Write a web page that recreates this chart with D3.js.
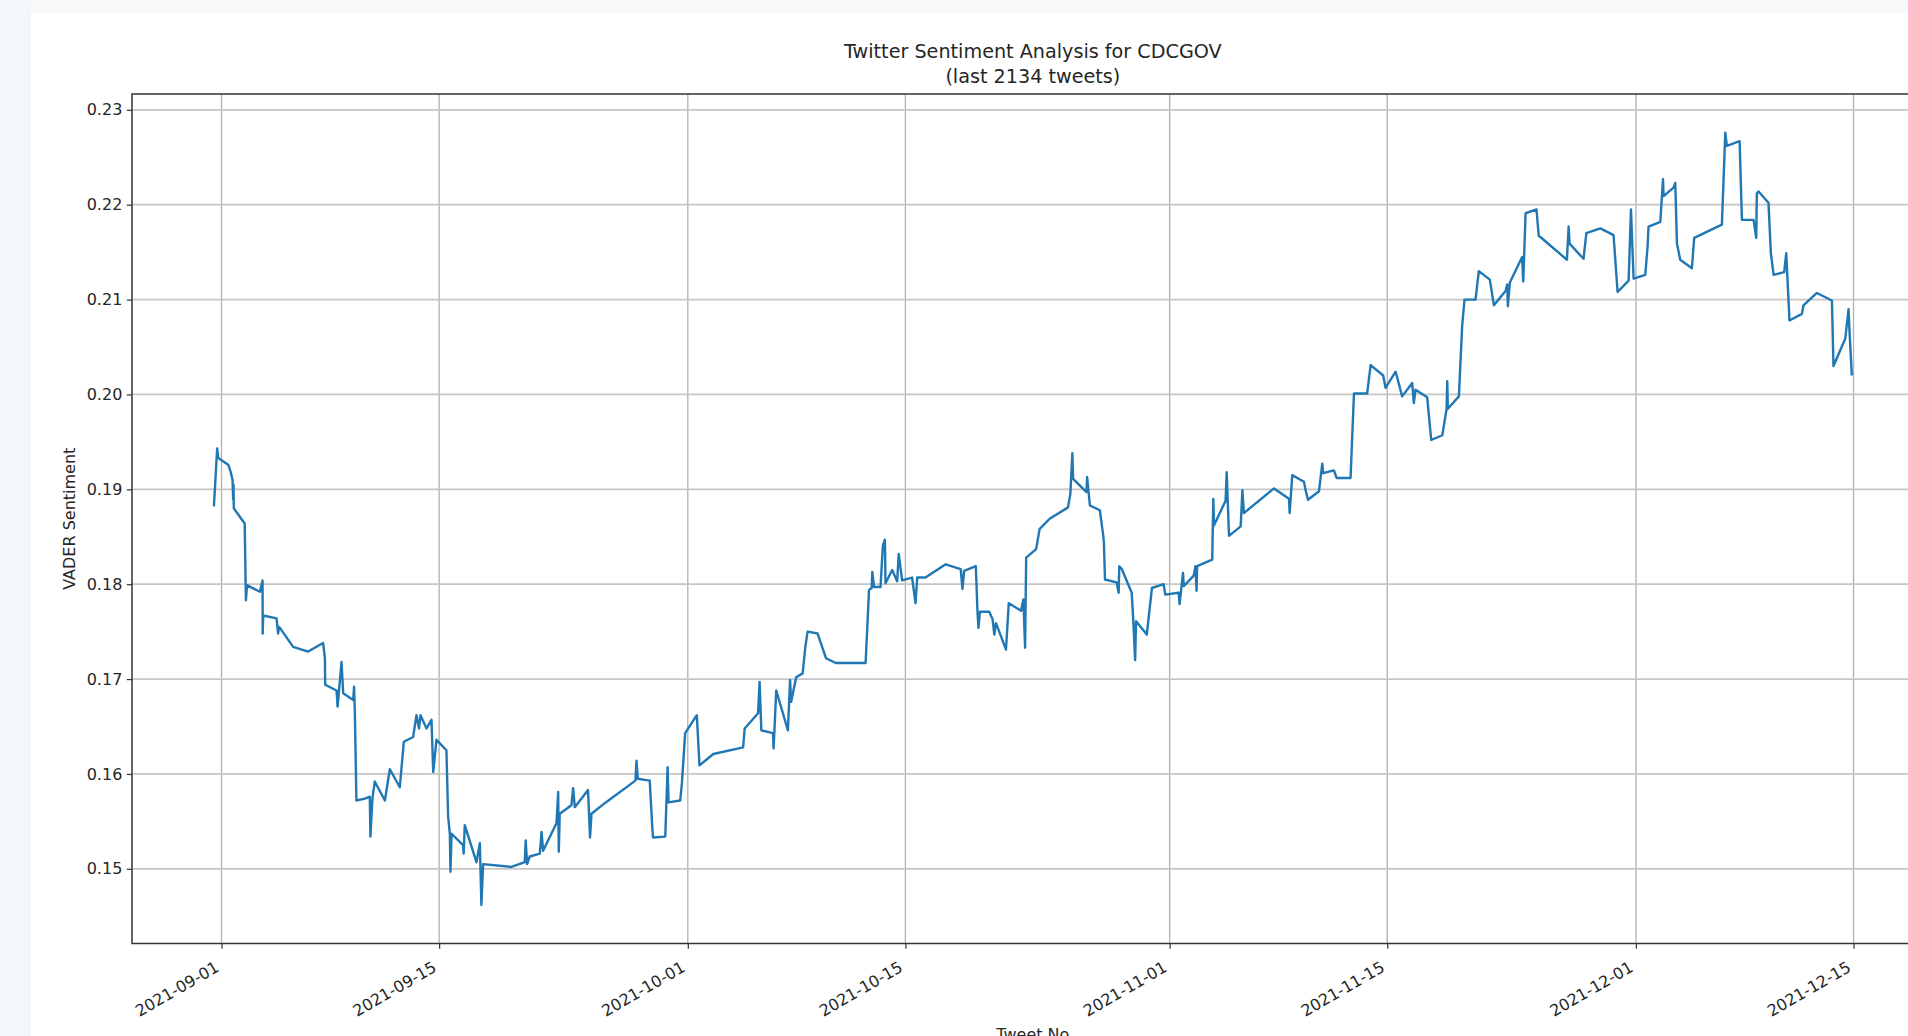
<!DOCTYPE html>
<html lang="en">

<head>
    <meta charset="UTF-8">
    <script src="https://d3js.org/d3.v7.min.js"></script>
    <title>Twitter Sentiment Analysis for CDCGOV</title>
    <style>
        body { margin: 0; background: #ffffff; }
        svg { display: block; }
        text { font-family: "DejaVu Sans", sans-serif; fill: #262626; }
    </style>
</head>

<body>
    <div id="chart"></div>
    <script>
        // Data (tweet time, rolling VADER sentiment)
        const tweetTimes = [
            "2021-08-31 12:14", "2021-08-31 17:17", "2021-08-31 18:58", "2021-09-01 10:19", "2021-09-01 13:55",
            "2021-09-01 17:02", "2021-09-01 18:00", "2021-09-01 18:29", "2021-09-01 18:58", "2021-09-02 11:46",
            "2021-09-02 13:41", "2021-09-02 15:22", "2021-09-03 11:17", "2021-09-03 15:22", "2021-09-03 15:36",
            "2021-09-03 16:19", "2021-09-04 12:58", "2021-09-04 15:22", "2021-09-04 17:02", "2021-09-05 14:38",
            "2021-09-06 13:41", "2021-09-07 12:58", "2021-09-07 15:36", "2021-09-07 16:05", "2021-09-08 09:36",
            "2021-09-08 11:17", "2021-09-08 17:17", "2021-09-08 19:55", "2021-09-09 11:17", "2021-09-09 12:43",
            "2021-09-09 13:55", "2021-09-09 16:19", "2021-09-10 05:17", "2021-09-10 12:58", "2021-09-10 13:55",
            "2021-09-10 17:02", "2021-09-10 20:38", "2021-09-11 12:14", "2021-09-11 19:55", "2021-09-12 11:17",
            "2021-09-12 17:31", "2021-09-13 07:55", "2021-09-13 12:58", "2021-09-13 17:02", "2021-09-13 19:12",
            "2021-09-14 04:34", "2021-09-14 12:14", "2021-09-14 14:53", "2021-09-14 19:55", "2021-09-15 11:17",
            "2021-09-15 13:55", "2021-09-15 16:34", "2021-09-15 17:31", "2021-09-15 19:12", "2021-09-16 12:58",
            "2021-09-16 13:55", "2021-09-16 15:36", "2021-09-17 09:36", "2021-09-17 14:53", "2021-09-17 17:17",
            "2021-09-17 19:55", "2021-09-19 15:36", "2021-09-20 12:14", "2021-09-20 13:41", "2021-09-20 15:50",
            "2021-09-20 19:55", "2021-09-21 11:31", "2021-09-21 14:10", "2021-09-21 16:34", "2021-09-22 13:12",
            "2021-09-22 15:50", "2021-09-22 16:48", "2021-09-22 18:14", "2021-09-23 12:14", "2021-09-23 14:53",
            "2021-09-23 17:31", "2021-09-24 13:55", "2021-09-24 17:02", "2021-09-24 19:12", "2021-09-25 17:17",
            "2021-09-27 15:07", "2021-09-27 16:48", "2021-09-27 18:43", "2021-09-28 13:12", "2021-09-28 16:48",
            "2021-09-28 18:14", "2021-09-29 13:12", "2021-09-29 16:48", "2021-09-29 18:14", "2021-09-30 12:14",
            "2021-09-30 14:53", "2021-09-30 19:55", "2021-10-01 13:55", "2021-10-01 18:00", "2021-10-02 15:22",
            "2021-10-04 13:26", "2021-10-04 15:50", "2021-10-05 12:29", "2021-10-05 14:53", "2021-10-05 17:31",
            "2021-10-06 11:31", "2021-10-06 12:29", "2021-10-06 16:34", "2021-10-07 10:34", "2021-10-07 13:55",
            "2021-10-07 15:36", "2021-10-07 23:17", "2021-10-08 09:22", "2021-10-08 13:26", "2021-10-08 17:02",
            "2021-10-09 08:24", "2021-10-09 21:22", "2021-10-10 12:29", "2021-10-12 10:34", "2021-10-12 15:50",
            "2021-10-12 19:55", "2021-10-12 20:53", "2021-10-12 23:31", "2021-10-13 09:36", "2021-10-13 13:12",
            "2021-10-13 16:19", "2021-10-13 17:17", "2021-10-14 03:36", "2021-10-14 11:17", "2021-10-14 13:41",
            "2021-10-14 18:58", "2021-10-15 10:19", "2021-10-15 15:36", "2021-10-15 18:14", "2021-10-16 06:58",
            "2021-10-17 14:10", "2021-10-18 13:26", "2021-10-18 16:05", "2021-10-18 18:43", "2021-10-19 12:43",
            "2021-10-19 15:22", "2021-10-19 16:48", "2021-10-19 18:58", "2021-10-20 09:22", "2021-10-20 14:38",
            "2021-10-20 17:17", "2021-10-20 19:55", "2021-10-21 11:17", "2021-10-21 15:36", "2021-10-22 10:34",
            "2021-10-22 14:10", "2021-10-22 16:48", "2021-10-22 18:29", "2021-10-23 09:50", "2021-10-23 15:07",
            "2021-10-24 06:43", "2021-10-25 11:02", "2021-10-25 14:38", "2021-10-25 17:46", "2021-10-25 18:58",
            "2021-10-26 15:36", "2021-10-26 16:34", "2021-10-26 20:53", "2021-10-27 12:14", "2021-10-27 17:31",
            "2021-10-27 18:29", "2021-10-27 20:10", "2021-10-28 14:10", "2021-10-28 17:17", "2021-10-28 18:14",
            "2021-10-28 22:05", "2021-10-29 13:26", "2021-10-29 16:05", "2021-10-29 18:43", "2021-10-29 20:10",
            "2021-10-30 12:43", "2021-10-30 20:38", "2021-10-31 14:38", "2021-10-31 17:17", "2021-11-01 13:55",
            "2021-11-01 15:22", "2021-11-01 20:38", "2021-11-01 21:50", "2021-11-02 13:12", "2021-11-02 15:50",
            "2021-11-02 17:31", "2021-11-02 18:29", "2021-11-03 17:46", "2021-11-03 19:26", "2021-11-03 20:24",
            "2021-11-04 14:24", "2021-11-04 16:05", "2021-11-04 19:41", "2021-11-05 13:41", "2021-11-05 16:19",
            "2021-11-05 18:43", "2021-11-07 17:02", "2021-11-08 16:19", "2021-11-08 17:17", "2021-11-08 21:22",
            "2021-11-09 15:22", "2021-11-09 18:00", "2021-11-09 21:36", "2021-11-10 14:38", "2021-11-10 19:41",
            "2021-11-10 21:07", "2021-11-11 13:41", "2021-11-11 17:46", "2021-11-12 15:22", "2021-11-12 20:38",
            "2021-11-13 17:02", "2021-11-13 22:19", "2021-11-14 17:46", "2021-11-14 21:22", "2021-11-15 12:58",
            "2021-11-15 23:02", "2021-11-16 14:38", "2021-11-16 17:02", "2021-11-16 19:41", "2021-11-17 13:41",
            "2021-11-17 19:55", "2021-11-18 12:58", "2021-11-18 19:41", "2021-11-18 20:38", "2021-11-18 21:36",
            "2021-11-19 14:38", "2021-11-19 19:41", "2021-11-19 23:17", "2021-11-20 16:19", "2021-11-20 21:22",
            "2021-11-21 14:24", "2021-11-21 20:38", "2021-11-22 14:38", "2021-11-22 17:17", "2021-11-22 18:14",
            "2021-11-22 21:22", "2021-11-23 16:19", "2021-11-23 18:00", "2021-11-23 21:36", "2021-11-24 14:24",
            "2021-11-24 18:00", "2021-11-24 20:24", "2021-11-26 13:26", "2021-11-26 16:05", "2021-11-26 17:31",
            "2021-11-27 15:07", "2021-11-27 19:26", "2021-11-28 17:02", "2021-11-29 13:26", "2021-11-29 19:41",
            "2021-11-30 12:43", "2021-11-30 16:19", "2021-11-30 20:24", "2021-12-01 14:24", "2021-12-01 18:00",
            "2021-12-01 19:26", "2021-12-02 13:41", "2021-12-02 17:46", "2021-12-02 18:43", "2021-12-03 10:05",
            "2021-12-03 12:43", "2021-12-03 15:22", "2021-12-03 20:24", "2021-12-04 14:24", "2021-12-04 18:00",
            "2021-12-06 12:43", "2021-12-06 18:00", "2021-12-06 20:24", "2021-12-07 16:05", "2021-12-07 19:41",
            "2021-12-08 13:41", "2021-12-08 17:46", "2021-12-08 18:43", "2021-12-08 21:22", "2021-12-09 12:43",
            "2021-12-09 16:19", "2021-12-09 20:38", "2021-12-10 12:58", "2021-12-10 16:05", "2021-12-10 21:07",
            "2021-12-11 16:19", "2021-12-11 18:43", "2021-12-12 15:22", "2021-12-13 14:38", "2021-12-13 17:02",
            "2021-12-14 11:17", "2021-12-14 16:19", "2021-12-14 17:46", "2021-12-14 21:22"
        ];

        const sentiment = [
            0.1882, 0.1943, 0.1933, 0.1926, 0.1919, 0.1910, 0.1889, 0.1905, 0.1880, 0.1864,
            0.1783, 0.1799, 0.1792, 0.1804, 0.1748, 0.1767, 0.1764, 0.1748, 0.1755, 0.1734,
            0.1729, 0.1738, 0.1722, 0.1694, 0.1688, 0.1671, 0.1718, 0.1685, 0.1678, 0.1692,
            0.1664, 0.1572, 0.1574, 0.1576, 0.1534, 0.1574, 0.1592, 0.1572, 0.1605, 0.1586,
            0.1634, 0.1639, 0.1662, 0.1648, 0.1662, 0.1648, 0.1657, 0.1602, 0.1636, 0.1625,
            0.1555, 0.1537, 0.1497, 0.1537, 0.1525, 0.1516, 0.1546, 0.1507, 0.1527, 0.1462,
            0.1505, 0.1502, 0.1507, 0.1530, 0.1505, 0.1513, 0.1516, 0.1539, 0.1519, 0.1548,
            0.1581, 0.1518, 0.1558, 0.1567, 0.1585, 0.1565, 0.1583, 0.1533, 0.1558, 0.1570,
            0.1593, 0.1614, 0.1595, 0.1593, 0.1548, 0.1533, 0.1534, 0.1607, 0.1570, 0.1572,
            0.1590, 0.1643, 0.1662, 0.1609, 0.1621, 0.1628, 0.1648, 0.1664, 0.1697, 0.1646,
            0.1643, 0.1627, 0.1688, 0.1646, 0.1699, 0.1676, 0.1702, 0.1706, 0.1734, 0.1750,
            0.1748, 0.1722, 0.1717, 0.1717, 0.1794, 0.1796, 0.1813, 0.1797, 0.1797, 0.1841,
            0.1847, 0.1801, 0.1815, 0.1803, 0.1832, 0.1804, 0.1807, 0.1780, 0.1807, 0.1807,
            0.1821, 0.1816, 0.1795, 0.1814, 0.1819, 0.1770, 0.1754, 0.1771, 0.1771, 0.1763,
            0.1747, 0.1759, 0.1731, 0.1780, 0.1772, 0.1784, 0.1733, 0.1828, 0.1837, 0.1858,
            0.1869, 0.1881, 0.1895, 0.1938, 0.1911, 0.1897, 0.1913, 0.1883, 0.1878, 0.1851,
            0.1844, 0.1805, 0.1802, 0.1791, 0.1819, 0.1816, 0.1791, 0.1759, 0.1720, 0.1761,
            0.1747, 0.1796, 0.1800, 0.1789, 0.1791, 0.1779, 0.1812, 0.1798, 0.1809, 0.1819,
            0.1793, 0.1819, 0.1826, 0.1890, 0.1862, 0.1888, 0.1918, 0.1851, 0.1861, 0.1899,
            0.1875, 0.1901, 0.1890, 0.1875, 0.1915, 0.1908, 0.1899, 0.1889, 0.1898, 0.1927,
            0.1917, 0.1920, 0.1912, 0.1912, 0.2001, 0.2001, 0.2031, 0.2020, 0.2007, 0.2024,
            0.1998, 0.2012, 0.1991, 0.2005, 0.1997, 0.1952, 0.1957, 0.1985, 0.2014, 0.1985,
            0.1998, 0.2072, 0.2100, 0.2100, 0.2130, 0.2121, 0.2094, 0.2109, 0.2116, 0.2093,
            0.2118, 0.2145, 0.2119, 0.2191, 0.2195, 0.2167, 0.2166, 0.2142, 0.2177, 0.2159,
            0.2143, 0.2170, 0.2175, 0.2168, 0.2108, 0.2120, 0.2195, 0.2122, 0.2126, 0.2156,
            0.2177, 0.2182, 0.2227, 0.2209, 0.2218, 0.2223, 0.2159, 0.2142, 0.2133, 0.2165,
            0.2179, 0.2276, 0.2262, 0.2267, 0.2184, 0.2184, 0.2165, 0.2212, 0.2214, 0.2202,
            0.2149, 0.2126, 0.2129, 0.2149, 0.2078, 0.2085, 0.2094, 0.2107, 0.2099, 0.2030,
            0.2059, 0.2090, 0.2067, 0.2020
        ];

        const xTickDates = ["2021-09-01", "2021-09-15", "2021-10-01", "2021-10-15",
            "2021-11-01", "2021-11-15", "2021-12-01", "2021-12-15"];
        const yTickValues = [0.15, 0.16, 0.17, 0.18, 0.19, 0.20, 0.21, 0.22, 0.23];

        const titleLines = ["Twitter Sentiment Analysis for CDCGOV", "(last 2134 tweets)"];

        // Dimensions
        const width = 1908;
        const height = 1036;
        const plotLeft = 132, plotTop = 94, plotBottom = 943.5;
        const pxPerDay = 15.543;

        const parseTime = d3.timeParse("%Y-%m-%d %H:%M");
        const parseDay = d3.timeParse("%Y-%m-%d");
        const data = tweetTimes.map((t, i) => ({ date: parseTime(t), value: sentiment[i] }));

        // matplotlib style 5% margins
        const [t0, t1] = d3.extent(data, d => d.date);
        const tPad = (t1 - t0) * 0.05;
        const xDomain = [new Date(+t0 - tPad), new Date(+t1 + tPad)];
        const plotRight = plotLeft + (xDomain[1] - xDomain[0]) / 864e5 * pxPerDay;

        const [v0, v1] = d3.extent(data, d => d.value);
        const vPad = (v1 - v0) * 0.05;

        const x = d3.scaleTime().domain(xDomain).range([plotLeft, plotRight]);
        const y = d3.scaleLinear().domain([v0 - vPad, v1 + vPad]).range([plotBottom, plotTop]);

        const svg = d3.select("#chart")
            .append("svg")
            .attr("width", width)
            .attr("height", height);

        // Background (screenshot border)
        svg.append("rect").attr("width", width).attr("height", height).attr("fill", "#ffffff");
        svg.append("rect").attr("width", width).attr("height", 13).attr("fill", "#f6f8fa");
        svg.append("rect").attr("width", 31).attr("height", height).attr("fill", "#f2f7fc");

        const plotW = plotRight - plotLeft;

        // Grid
        svg.append("g")
            .selectAll("line")
            .data(xTickDates.map(parseDay))
            .join("line")
            .attr("x1", d => x(d)).attr("x2", d => x(d))
            .attr("y1", plotTop).attr("y2", plotBottom)
            .attr("stroke", "#b0b0b0")
            .attr("stroke-width", 1.3);

        svg.append("g")
            .selectAll("line")
            .data(yTickValues)
            .join("line")
            .attr("x1", plotLeft).attr("x2", plotRight)
            .attr("y1", d => y(d)).attr("y2", d => y(d))
            .attr("stroke", "#c6c6c6")
            .attr("stroke-width", 1.7);

        // Sentiment line
        const line = d3.line()
            .x(d => x(d.date))
            .y(d => y(d.value));

        svg.append("path")
            .datum(data)
            .attr("fill", "none")
            .attr("stroke", "#1f77b4")
            .attr("stroke-width", 2.4)
            .attr("stroke-linejoin", "round")
            .attr("d", line);

        // Axes
        const yAxis = d3.axisLeft(y)
            .tickValues(yTickValues)
            .tickFormat(d3.format(".2f"))
            .tickSize(5.2)
            .tickPadding(4.5);

        const gy = svg.append("g")
            .attr("transform", `translate(${plotLeft},0)`)
            .call(yAxis);
        gy.select(".domain").remove();
        gy.selectAll(".tick line").attr("stroke", "#333").attr("stroke-width", 1.2);
        gy.selectAll(".tick text")
            .style("font-family", "DejaVu Sans")
            .style("font-size", "16px")
            .attr("fill", "#262626");

        const xAxis = d3.axisBottom(x)
            .tickValues(xTickDates.map(parseDay))
            .tickFormat(d3.timeFormat("%Y-%m-%d"))
            .tickSize(5.2)
            .tickPadding(0);

        const gx = svg.append("g")
            .attr("transform", `translate(0,${plotBottom})`)
            .call(xAxis);
        gx.select(".domain").remove();
        gx.selectAll(".tick line").attr("stroke", "#333").attr("stroke-width", 1.2);
        gx.selectAll(".tick text")
            .style("font-family", "DejaVu Sans")
            .style("font-size", "16px")
            .attr("fill", "#262626")
            .attr("text-anchor", "end")
            .attr("dy", null)
            .attr("y", 0)
            .attr("transform", "translate(-2,27) rotate(-30)");

        // Spines
        svg.append("rect")
            .attr("x", plotLeft).attr("y", plotTop)
            .attr("width", plotW).attr("height", plotBottom - plotTop)
            .attr("fill", "none")
            .attr("stroke", "#333")
            .attr("stroke-width", 1.5);

        // Title
        const cx = (plotLeft + plotRight) / 2;
        svg.append("text")
            .attr("x", cx)
            .attr("y", 58)
            .attr("text-anchor", "middle")
            .style("font-size", "19.2px")
            .text(titleLines[0]);
        svg.append("text")
            .attr("x", cx)
            .attr("y", 83)
            .attr("text-anchor", "middle")
            .style("font-size", "19.2px")
            .text(titleLines[1]);

        // Axis labels
        svg.append("text")
            .attr("transform", `translate(75,${(plotTop + plotBottom) / 2}) rotate(-90)`)
            .attr("text-anchor", "middle")
            .style("font-size", "16px")
            .text("VADER Sentiment");

        svg.append("text")
            .attr("x", cx)
            .attr("y", 1040)
            .attr("text-anchor", "middle")
            .style("font-size", "16px")
            .text("Tweet No");
    </script>
</body>

</html>
